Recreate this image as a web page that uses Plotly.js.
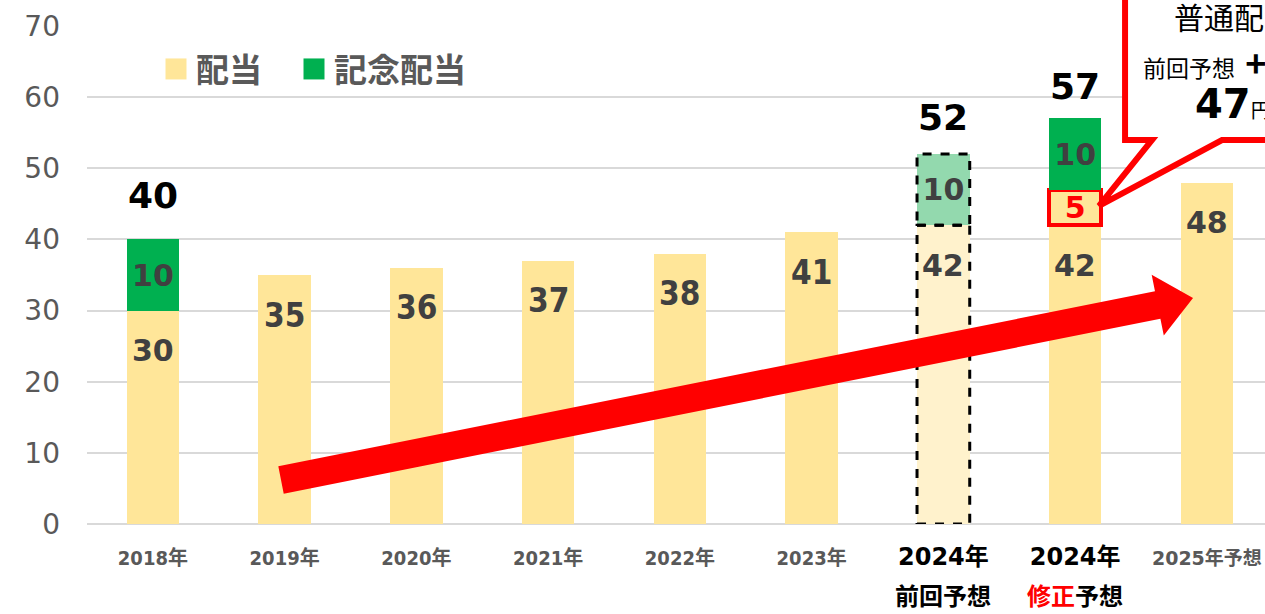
<!DOCTYPE html>
<html>
<head>
<meta charset="utf-8">
<script src="https://cdn.plot.ly/plotly-3.0.1.min.js"></script>
<style>
  html, body { margin: 0; padding: 0; background: #fff; overflow: hidden; }
  #chart { width: 1265px; height: 614px; }
</style>
</head>
<body>
<div id="chart"></div>
<script>
// categories (x axis)
const years = ['2018年', '2019年', '2020年', '2021年', '2022年', '2023年', '2024年', '2024年', '2025年予想'];
const subLabels = ['', '', '', '', '', '', '前回予想', '<span style="color:#FF0000">修正</span>予想', ''];

// 配当 (ordinary dividend, yen)
const dividend = [30, 35, 36, 37, 38, 41, 42, 42, 48];
// increase in the revised 2024 forecast
const increase = [0, 0, 0, 0, 0, 0, 0, 5, 0];
// 記念配当 (commemorative dividend)
const memorial = [10, 0, 0, 0, 0, 0, 10, 10, 0];

const yTicks = [0, 10, 20, 30, 40, 50, 60, 70];

// callout text
const calloutLines = ['普通配当', '前回予想\u00A0\u00A0<span style="font-size:36px"><b>+</b></span>5円', '<b>47</b><span style="font-size:20px">円</span>'];

// layout helpers (pixels -> paper)
const W = 1265, H = 614;
const M = {l: 87, r: 0, t: 26, b: 90};
const pw = W - M.l - M.r, ph = H - M.t - M.b;
const px2x = p => (p - M.l) / pw;
const py2y = p => (H - M.b - p) / ph;

const xs = years.map((_, i) => i);
const prevIdx = 6;             // 2024 previous forecast (dashed)
const condensed = [false, true, true, true, true, true, false, false, false];
const totalShift = {0: 44, 6: 37, 7: 32};

const YELLOW = '#FFE699', YELLOW_LIGHT = '#FFF2CC';
const GREEN = '#00B050', GREEN_LIGHT = '#93D9AE';
const LABEL = '#404040';

const baseTrace = {
  type: 'bar', name: '配当', x: xs, y: dividend, width: 0.4,
  marker: {color: xs.map(i => i === prevIdx ? YELLOW_LIGHT : YELLOW), line: {width: 0}},
  hoverinfo: 'skip'
};
const increaseTrace = {
  type: 'bar', name: '増配', x: xs, y: increase.map(v => v || null), width: 0.4,
  showlegend: false,
  marker: {color: YELLOW, line: {color: '#FF0000', width: 4}},
  text: increase.map(v => v ? String(v) : ''),
  textposition: 'inside', insidetextanchor: 'middle', textangle: 0, constraintext: 'none',
  textfont: {family: 'DejaVu Sans', size: 30, weight: 'bold', color: '#FF0000'},
  hoverinfo: 'skip'
};
const memorialTrace = {
  type: 'bar', name: '記念配当', x: xs, y: memorial.map(v => v || null), width: 0.4,
  marker: {color: xs.map(i => i === prevIdx ? GREEN_LIGHT : GREEN), line: {width: 0}},
  text: memorial.map(v => v ? String(v) : ''),
  textposition: 'inside', insidetextanchor: 'middle', textangle: 0, constraintext: 'none',
  textfont: {family: 'DejaVu Sans', size: 30, weight: 'bold', color: LABEL},
  hoverinfo: 'skip'
};

// tick labels
const tickText = years.map((y, i) => {
  if (subLabels[i]) return '<span style="font-family:DejaVu Sans, Noto Sans CJK JP;font-size:24px;color:#000">' + y + '</span>';
  if (i === years.length - 1) return '<span style="font-family:DejaVu Sans, Noto Sans CJK JP;font-size:19px">' + y + '</span>';
  return y;
});

const annotations = [];
// value labels inside the ordinary dividend bars
dividend.forEach((v, i) => {
  annotations.push({
    x: i, y: v, xref: 'x', yref: 'y', text: String(v), showarrow: false,
    yanchor: 'middle', yshift: -40,
    font: {family: condensed[i] ? 'DejaVu Sans Condensed' : 'DejaVu Sans', size: condensed[i] ? 33 : 30, weight: 'bold', color: LABEL}
  });
});
// totals above stacked bars
xs.forEach(i => {
  if (!memorial[i]) return;
  const total = dividend[i] + increase[i] + memorial[i];
  annotations.push({
    x: i, y: total, xref: 'x', yref: 'y', text: String(total), showarrow: false,
    yanchor: 'middle', yshift: totalShift[i] || 37,
    font: {family: 'DejaVu Sans', size: 36, weight: 'bold', color: '#000'}
  });
});
// second line of the 2024 tick labels
xs.forEach(i => {
  if (!subLabels[i]) return;
  annotations.push({
    x: i, y: py2y(594), xref: 'x', yref: 'paper', text: subLabels[i], showarrow: false,
    yanchor: 'middle', borderpad: 0,
    font: {family: 'Noto Sans CJK JP', size: 24, weight: 'bold', color: '#000'}
  });
});
// callout text
annotations.push(
  {x: px2x(1172), y: py2y(16), xref: 'paper', yref: 'paper', xanchor: 'left', yanchor: 'middle', showarrow: false,
   text: calloutLines[0], font: {family: 'Noto Sans CJK JP', size: 30, color: '#000'}},
  {x: px2x(1141), y: py2y(61), xref: 'paper', yref: 'paper', xanchor: 'left', yanchor: 'middle', showarrow: false,
   text: calloutLines[1], font: {family: 'Noto Sans CJK JP', size: 23, color: '#000'}},
  {x: px2x(1193), y: py2y(104), xref: 'paper', yref: 'paper', xanchor: 'left', yanchor: 'middle', showarrow: false,
   text: calloutLines[2], font: {family: 'DejaVu Sans, Noto Sans CJK JP', size: 40, color: '#000'}}
);

// shapes
const shapes = [];
const prevTop = dividend[prevIdx] + memorial[prevIdx];
shapes.push(
  {type: 'rect', xref: 'x', yref: 'y', x0: prevIdx - 0.2, x1: prevIdx + 0.2, y0: 0, y1: dividend[prevIdx],
   line: {color: '#000', width: 3, dash: 'dash'}},
  {type: 'rect', xref: 'x', yref: 'y', x0: prevIdx - 0.2, x1: prevIdx + 0.2, y0: dividend[prevIdx], y1: prevTop,
   line: {color: '#000', width: 3, dash: 'dash'}}
);

// big red trend arrow, built in pixel space
function arrowPath(sx, sy, tx, ty, half, headLen, headHalf) {
  const dx = tx - sx, dy = ty - sy, len = Math.hypot(dx, dy);
  const ux = dx / len, uy = dy / len, nx = -uy, ny = ux;
  const bx = tx - headLen * ux, by = ty - headLen * uy;
  const pts = [
    [sx + half * nx, sy + half * ny], [bx + half * nx, by + half * ny], [bx + headHalf * nx, by + headHalf * ny],
    [tx, ty],
    [bx - headHalf * nx, by - headHalf * ny], [bx - half * nx, by - half * ny], [sx - half * nx, sy - half * ny]
  ];
  return 'M' + pts.map(p => px2x(p[0]).toFixed(4) + ',' + py2y(p[1]).toFixed(4)).join('L') + 'Z';
}
shapes.push({type: 'path', xref: 'paper', yref: 'paper', path: arrowPath(281, 480, 1193, 298, 14, 36, 31),
  fillcolor: '#FF0000', line: {width: 0}});

// callout box with pointer
const callout = [[1125, -20], [1125, 140], [1152, 140], [1099, 206], [1222, 140], [1300, 140], [1300, -20]];
shapes.push({type: 'path', xref: 'paper', yref: 'paper',
  path: 'M' + callout.map(p => px2x(p[0]).toFixed(4) + ',' + py2y(p[1]).toFixed(4)).join('L') + 'Z',
  fillcolor: '#FFFFFF', line: {color: '#FF0000', width: 6}});

const layout = {
  width: W, height: H,
  margin: M,
  paper_bgcolor: '#fff', plot_bgcolor: '#fff',
  barmode: 'stack',
  showlegend: true,
  legend: {
    orientation: 'h', x: px2x(156), y: py2y(69), xanchor: 'left', yanchor: 'middle',
    font: {family: 'Noto Sans CJK JP', size: 33, weight: 'bold', color: '#595959'},
    bgcolor: 'rgba(0,0,0,0)', traceorder: 'normal',
    entrywidth: 93, entrywidthmode: 'pixels'
  },
  xaxis: {
    range: [-0.5, -0.5 + pw / 131.75],
    tickmode: 'array', tickvals: xs, ticktext: tickText,
    tickfont: {family: 'DejaVu Sans Condensed, Noto Sans CJK JP', size: 20, weight: 'bold', color: '#595959'},
    ticks: '', showline: false, showgrid: false, zeroline: false,
    ticklabelstandoff: 20, fixedrange: true
  },
  yaxis: {
    range: [0, 70], tickmode: 'array', tickvals: yTicks,
    tickfont: {family: 'DejaVu Sans', size: 28, color: '#595959'},
    ticks: '', showline: false,
    gridcolor: '#D9D9D9', gridwidth: 2,
    zeroline: true, zerolinecolor: '#D9D9D9', zerolinewidth: 2,
    ticklabelstandoff: 26, fixedrange: true
  },
  annotations: annotations,
  shapes: shapes
};

Plotly.newPlot('chart', [baseTrace, increaseTrace, memorialTrace], layout, {staticPlot: true, displayModeBar: false})
  .then(gd => {
    // enlarge the legend swatches and let the last entry show in full
    gd.querySelectorAll('.legendpoints path').forEach(p => {
      const t = p.getAttribute('transform') || '';
      p.setAttribute('transform', t + ' scale(1.75)');
    });
    gd.querySelectorAll('.legend [clip-path]').forEach(el => el.removeAttribute('clip-path'));
  });
</script>
</body>
</html>
